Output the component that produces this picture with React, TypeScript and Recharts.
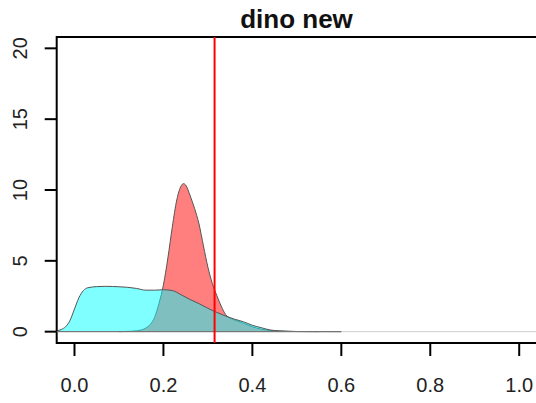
import React from 'react';
import {
  ComposedChart, Area, XAxis, YAxis, ReferenceLine, ReferenceArea,
} from 'recharts';

// density of "new" (cyan)
const cyanX = [-0.04, -0.03, -0.02, -0.01, 0.0, 0.01, 0.02, 0.03, 0.05, 0.07, 0.1, 0.12, 0.14, 0.16, 0.18, 0.2, 0.22, 0.24, 0.26, 0.28, 0.3, 0.32, 0.34, 0.36, 0.38, 0.4, 0.42, 0.44, 0.46, 0.48, 0.5, 0.55];
const cyanY = [0.05, 0.15, 0.35, 0.8, 1.6, 2.4, 2.9, 3.1, 3.18, 3.2, 3.17, 3.13, 3.05, 2.93, 2.93, 2.96, 2.9, 2.6, 2.27, 1.98, 1.65, 1.36, 1.1, 0.88, 0.7, 0.45, 0.28, 0.12, 0.06, 0.03, 0.01, 0];

// density of "dino" (red)
const redX = [0.1, 0.12, 0.14, 0.15, 0.16, 0.17, 0.18, 0.19, 0.2, 0.21, 0.22, 0.23, 0.24, 0.245, 0.25, 0.26, 0.27, 0.28, 0.29, 0.3, 0.31, 0.32, 0.33, 0.34, 0.35, 0.36, 0.38, 0.4, 0.42, 0.44, 0.46, 0.5, 0.6];
const redY = [0, 0.02, 0.06, 0.12, 0.25, 0.5, 1.0, 2.0, 3.3, 5.2, 7.4, 9.3, 10.3, 10.45, 10.35, 9.6, 8.7, 7.6, 6.05, 4.55, 3.4, 2.55, 1.8, 1.2, 0.95, 0.82, 0.6, 0.35, 0.18, 0.08, 0.04, 0.01, 0];

const xTicks = [0, 0.2, 0.4, 0.6, 0.8, 1.0];
const yTicks = [0, 5, 10, 15, 20];
const cutoff = 0.315;

const cyanData = cyanX.map((x, i) => ({ x, y: cyanY[i] }));
const redData = redX.map((x, i) => ({ x, y: redY[i] }));

const font = '"Liberation Sans", Arial, sans-serif';

const XTick = ({ x, payload }: any) => (
  <text x={x} y={392} textAnchor="middle" fontSize={20} fontFamily={font} fill="#222">
    {payload.value.toFixed(1)}
  </text>
);

const YTick = ({ y, payload }: any) => (
  <text transform={`translate(27,${y}) rotate(-90)`} textAnchor="middle" fontSize={20} fontFamily={font} fill="#222">
    {payload.value}
  </text>
);

export default function App() {
  return (
    <div style={{ position: 'absolute', left: 0, top: 0, width: 540, height: 403, background: '#fff' }}>
      <div style={{
        position: 'absolute', left: 0, top: 4, width: 593, textAlign: 'center',
        fontFamily: font, fontWeight: 'bold', fontSize: 26, color: '#111',
      }}>
        dino new
      </div>
      <ComposedChart width={540} height={403} margin={{ top: 37, right: 3, left: 0, bottom: 0 }}>
        <XAxis
          type="number"
          dataKey="x"
          domain={[-0.04, 1.04]}
          ticks={xTicks}
          allowDataOverflow
          height={60}
          axisLine={false}
          tickSize={13}
          tickLine={{ stroke: '#000', strokeWidth: 2 }}
          tick={<XTick />}
        />
        <YAxis
          type="number"
          dataKey="y"
          domain={[-0.8, 20.8]}
          ticks={yTicks}
          allowDataOverflow
          width={56.7}
          axisLine={false}
          tickSize={12}
          tickLine={{ stroke: '#000', strokeWidth: 2 }}
          tick={<YTick />}
        />
        <ReferenceLine y={0} stroke="#cfcfcf" strokeWidth={1} />
        <Area
          data={redData}
          dataKey="y"
          type="monotone"
          baseValue={0}
          fill="rgb(255,0,0)"
          fillOpacity={0.5}
          stroke="#555"
          strokeWidth={1}
          isAnimationActive={false}
        />
        <Area
          data={cyanData}
          dataKey="y"
          type="monotone"
          baseValue={0}
          fill="rgb(0,255,255)"
          fillOpacity={0.5}
          stroke="#555"
          strokeWidth={1}
          isAnimationActive={false}
        />
        <ReferenceLine segment={[{ x: -0.04, y: 0 }, { x: 0.6, y: 0 }]} stroke="#666" strokeWidth={1} />
        <ReferenceLine x={cutoff} stroke="#ff0000" strokeWidth={2} />
        <ReferenceArea x1={-0.04} x2={1.04} y1={-0.8} y2={20.8} fill="none" stroke="#000" strokeWidth={2} ifOverflow="visible" />
      </ComposedChart>
    </div>
  );
}
